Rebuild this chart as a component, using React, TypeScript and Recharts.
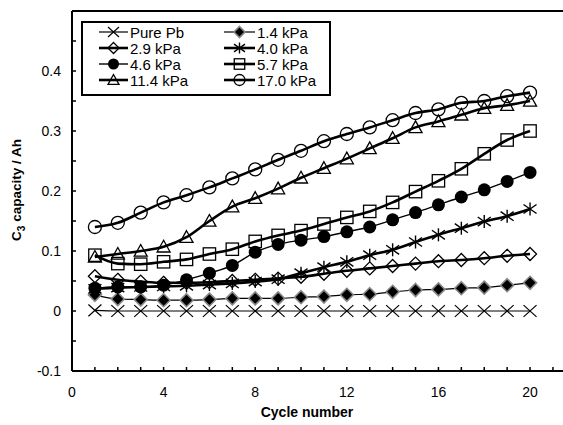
import React from 'react';
import { LineChart, Line, XAxis, YAxis, ReferenceLine, Label } from 'recharts';

const cycles = [1, 2, 3, 4, 5, 6, 7, 8, 9, 10, 11, 12, 13, 14, 15, 16, 17, 18, 19, 20];

const purePb = [0.001, 0, 0, 0, 0, 0, 0, 0, 0, 0, 0, 0, 0, 0, 0, 0, 0, 0, 0, 0];
const kPa1_4 = [0.027, 0.020, 0.019, 0.018, 0.018, 0.019, 0.021, 0.021, 0.021, 0.023, 0.024, 0.027, 0.028, 0.032, 0.035, 0.036, 0.038, 0.039, 0.043, 0.047];
const kPa2_9 = [0.058, 0.052, 0.049, 0.047, 0.047, 0.048, 0.050, 0.052, 0.054, 0.057, 0.062, 0.067, 0.071, 0.075, 0.079, 0.083, 0.085, 0.088, 0.092, 0.095];
const kPa4_0 = [0.037, 0.039, 0.040, 0.041, 0.042, 0.044, 0.046, 0.049, 0.053, 0.063, 0.073, 0.082, 0.093, 0.102, 0.115, 0.127, 0.138, 0.149, 0.158, 0.170];
const kPa4_6 = [0.038, 0.040, 0.040, 0.043, 0.052, 0.063, 0.076, 0.098, 0.111, 0.118, 0.124, 0.132, 0.140, 0.152, 0.164, 0.177, 0.190, 0.202, 0.216, 0.231];
const kPa5_7 = [0.093, 0.079, 0.078, 0.082, 0.086, 0.095, 0.103, 0.116, 0.126, 0.134, 0.145, 0.156, 0.166, 0.181, 0.199, 0.217, 0.237, 0.262, 0.285, 0.300];
const kPa11_4 = [0.090, 0.095, 0.100, 0.107, 0.123, 0.150, 0.174, 0.188, 0.204, 0.222, 0.238, 0.254, 0.271, 0.288, 0.306, 0.316, 0.327, 0.338, 0.343, 0.350];
const kPa17_0 = [0.140, 0.147, 0.164, 0.181, 0.193, 0.206, 0.221, 0.236, 0.252, 0.267, 0.283, 0.295, 0.306, 0.318, 0.330, 0.336, 0.347, 0.350, 0.358, 0.364];

const xTicks = [0, 1, 2, 3, 4, 5, 6, 7, 8, 9, 10, 11, 12, 13, 14, 15, 16, 17, 18, 19, 20, 21];
const yTicks = [-0.1, -0.05, 0, 0.05, 0.1, 0.15, 0.2, 0.25, 0.3, 0.35, 0.4, 0.45, 0.5];

type Shape = 'cross' | 'filledDiamond' | 'openDiamond' | 'asterisk' | 'filledCircle' | 'openSquare' | 'openTriangle' | 'openCircle';

const series: { key: string; name: string; values: number[]; shape: Shape; width: number }[] = [
  { key: 'purePb', name: 'Pure Pb', values: purePb, shape: 'cross', width: 1.2 },
  { key: 'k14', name: '1.4 kPa', values: kPa1_4, shape: 'filledDiamond', width: 1.2 },
  { key: 'k29', name: '2.9 kPa', values: kPa2_9, shape: 'openDiamond', width: 2.6 },
  { key: 'k40', name: '4.0 kPa', values: kPa4_0, shape: 'asterisk', width: 2.6 },
  { key: 'k46', name: '4.6 kPa', values: kPa4_6, shape: 'filledCircle', width: 1.4 },
  { key: 'k57', name: '5.7 kPa', values: kPa5_7, shape: 'openSquare', width: 2.6 },
  { key: 'k114', name: '11.4 kPa', values: kPa11_4, shape: 'openTriangle', width: 2.6 },
  { key: 'k170', name: '17.0 kPa', values: kPa17_0, shape: 'openCircle', width: 2.6 },
];

const data = cycles.map((c, i) => {
  const row: any = { cycle: c };
  series.forEach((s) => (row[s.key] = s.values[i]));
  return row;
});

const Marker = ({ shape, cx, cy, s = 6.5 }: { shape: Shape; cx: number; cy: number; s?: number }) => {
  switch (shape) {
    case 'cross':
      return (
        <g stroke="#000" strokeWidth={1.2}>
          <line x1={cx - s} y1={cy - s * 0.9} x2={cx + s} y2={cy + s * 0.9} />
          <line x1={cx - s} y1={cy + s * 0.9} x2={cx + s} y2={cy - s * 0.9} />
        </g>
      );
    case 'filledDiamond':
      return (
        <polygon
          points={`${cx},${cy - s} ${cx + s},${cy} ${cx},${cy + s} ${cx - s},${cy}`}
          fill="#000"
          stroke="#888"
          strokeWidth={1.6}
        />
      );
    case 'openDiamond':
      return (
        <polygon
          points={`${cx},${cy - s} ${cx + s},${cy} ${cx},${cy + s} ${cx - s},${cy}`}
          fill="none"
          stroke="#000"
          strokeWidth={1.3}
        />
      );
    case 'asterisk':
      return (
        <g stroke="#000" strokeWidth={1.4}>
          <line x1={cx - s} y1={cy - s * 0.7} x2={cx + s} y2={cy + s * 0.7} />
          <line x1={cx - s} y1={cy + s * 0.7} x2={cx + s} y2={cy - s * 0.7} />
          <line x1={cx} y1={cy - s} x2={cx} y2={cy + s} />
        </g>
      );
    case 'filledCircle':
      return <circle cx={cx} cy={cy} r={s} fill="#000" />;
    case 'openSquare':
      return <rect x={cx - s * 0.95} y={cy - s * 0.95} width={s * 1.9} height={s * 1.9} fill="none" stroke="#000" strokeWidth={1.3} />;
    case 'openTriangle':
      return (
        <polygon
          points={`${cx},${cy - s} ${cx + s},${cy + s * 0.8} ${cx - s},${cy + s * 0.8}`}
          fill="none"
          stroke="#000"
          strokeWidth={1.3}
        />
      );
    default:
      return <circle cx={cx} cy={cy} r={s} fill="none" stroke="#000" strokeWidth={1.3} />;
  }
};

const font = 'Liberation Sans, Arial, sans-serif';

const LegendBox = () => {
  const rowY = [11, 27, 43, 59];
  const cols = [
    { x1: 18, x2: 47, tx: 49 },
    { x1: 143, x2: 174, tx: 176 },
  ];
  return (
    <svg width={250} height={75} style={{ position: 'absolute', left: 81, top: 21 }}>
      <rect x={1} y={1} width={248} height={73} fill="#fff" stroke="#000" strokeWidth={2} />
      {series.map((s, i) => {
        const c = cols[i % 2];
        const y = rowY[Math.floor(i / 2)];
        const mid = (c.x1 + c.x2) / 2;
        return (
          <g key={s.key}>
            <line x1={c.x1} y1={y} x2={c.x2} y2={y} stroke="#000" strokeWidth={s.width} />
            <Marker shape={s.shape} cx={mid} cy={y} s={5.5} />
            <text x={c.tx} y={y + 5.5} fontSize={15} fontFamily={font} fill="#000">
              {s.name}
            </text>
          </g>
        );
      })}
    </svg>
  );
};

const fmtY = (v: number) => {
  const t = v * 10;
  if (Math.abs(t - Math.round(t)) > 1e-6 || v > 0.45) return '';
  return String(Math.round(t) / 10);
};
const fmtX = (v: number) => (v % 4 === 0 && v <= 20 ? String(v) : '');

export default function App() {
  return (
    <div style={{ position: 'absolute', left: 0, top: 0, width: 563, height: 425, overflow: 'hidden', background: '#fff' }}>
      <LineChart width={600} height={425} data={data} margin={{ top: 11, right: 35.6, bottom: 0, left: 0 }}>
        <XAxis
          dataKey="cycle"
          type="number"
          domain={[0, 21.5]}
          ticks={xTicks}
          tickFormatter={fmtX}
          interval={0}
          height={54}
          axisLine={{ stroke: '#000', strokeWidth: 2 }}
          tickLine={{ stroke: '#000', strokeWidth: 1.5 }}
          tickSize={-4}
          tickMargin={20}
          tick={{ fill: '#000', fontSize: 14, fontFamily: font }}
        >
          <Label
            content={() => (
              <text x={307} y={417} textAnchor="middle" fontSize={14} fontWeight="bold" fontFamily={font} fill="#000">
                Cycle number
              </text>
            )}
          />
        </XAxis>
        <YAxis
          type="number"
          domain={[-0.1, 0.5]}
          ticks={yTicks}
          tickFormatter={fmtY}
          interval={0}
          width={72}
          axisLine={{ stroke: '#000', strokeWidth: 2 }}
          tickLine={{ stroke: '#000', strokeWidth: 1.5 }}
          tickSize={-4}
          tickMargin={15}
          tick={{ fill: '#000', fontSize: 14, fontFamily: font }}
        >
          <Label
            content={() => (
              <text transform="translate(21,190) rotate(-90)" textAnchor="middle" fontSize={13.5} fontWeight="bold" fontFamily={font} fill="#000">
                <tspan>C</tspan>
                <tspan fontSize={10} dy={4}>3</tspan>
                <tspan dy={-4}> capacity / Ah</tspan>
              </text>
            )}
          />
        </YAxis>
        <ReferenceLine y={0.5} stroke="#000" strokeWidth={2} />
        {series.map((s) => (
          <Line
            key={s.key}
            dataKey={s.key}
            name={s.name}
            type="monotone"
            stroke="#000"
            strokeWidth={s.width}
            isAnimationActive={false}
            dot={(p: any) => <Marker key={`${s.key}-${p.index}`} shape={s.shape} cx={p.cx} cy={p.cy} />}
            activeDot={false}
          />
        ))}
      </LineChart>
      <LegendBox />
    </div>
  );
}
